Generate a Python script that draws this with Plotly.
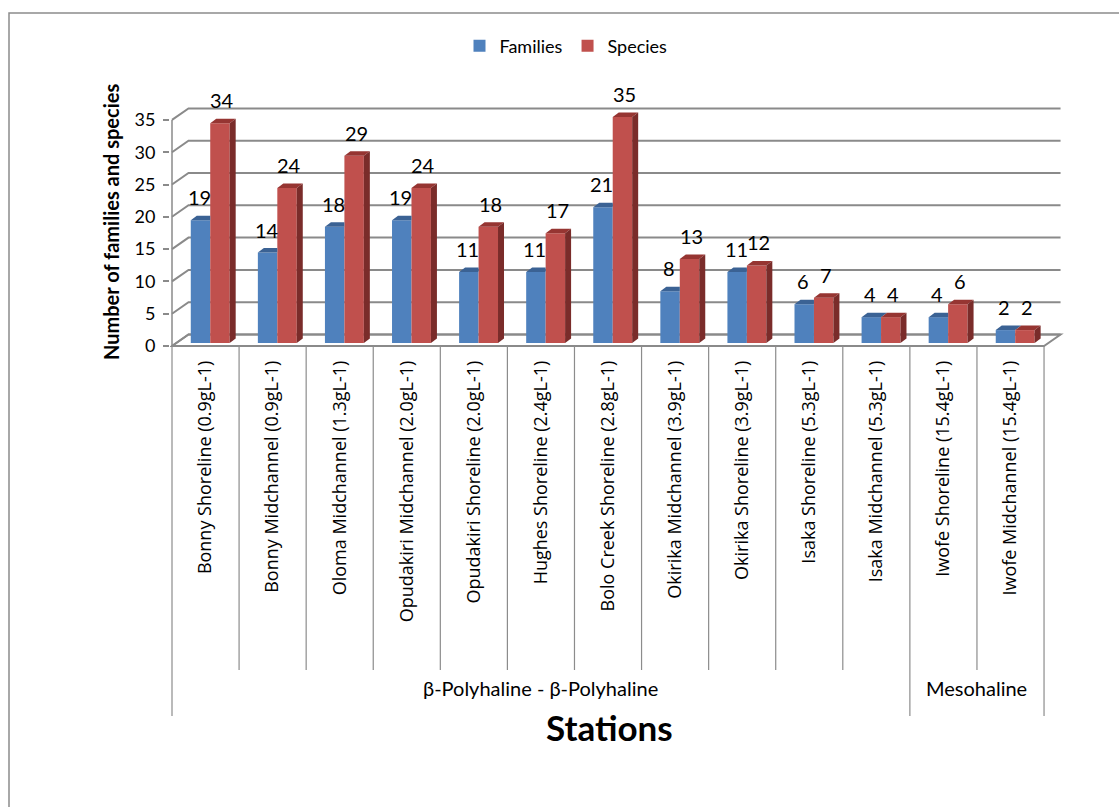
import plotly.graph_objects as go

# ---------------- data ----------------
stations = [
    "Bonny Shoreline (0.9gL-1)", "Bonny Midchannel (0.9gL-1)", "Oloma Midchannel (1.3gL-1)",
    "Opudakiri Midchannel (2.0gL-1)", "Opudakiri Shoreline (2.0gL-1)", "Hughes Shoreline (2.4gL-1)",
    "Bolo Creek Shoreline (2.8gL-1)", "Okirika Midchannel (3.9gL-1)", "Okirika Shoreline (3.9gL-1)",
    "Isaka Shoreline (5.3gL-1)", "Isaka Midchannel (5.3gL-1)", "Iwofe Shoreline (15.4gL-1)",
    "Iwofe Midchannel (15.4gL-1)",
]
families = [19, 14, 18, 19, 11, 11, 21, 8, 11, 6, 4, 4, 2]
species = [34, 24, 29, 24, 18, 17, 35, 13, 12, 7, 4, 6, 2]
groups = ["β-Polyhaline - β-Polyhaline", "Mesohaline"]
group_sizes = [11, 2]
y_ticks = [0, 5, 10, 15, 20, 25, 30, 35]

# ---------------- geometry / style ----------------
W, H = 1119, 807
PX_X, PX_Y = 67.08, 6.46          # pixels per category, pixels per unit
L, R, T, B = 170, 1075, 95, 348   # plot area in pixels
X0PIX, Y0PIX = 172, 346           # pixel of front-left corner (x=-0.5, y=0)
XMIN = -0.5 - (X0PIX - L) / PX_X
XMAX = -0.5 + (R - X0PIX) / PX_X
YMIN = -(B - Y0PIX) / PX_Y
YMAX = (Y0PIX - T) / PX_Y
PW, PH = R - L, B - T

def px(xp):
    return (xp - L) / PW

def py(yp):
    return (B - yp) / PH

n = len(stations)
WALL_DX, WALL_DY = 16.5 / PX_X, 11.5 / PX_Y
BAR_BASE = 3 / PX_Y
BAR_W = 0.29
OFF_FAM, OFF_SPE = -0.22, 0.07
FACE_DX, FACE_DY = 6 / PX_X, 4.5 / PX_Y
GRID_COL = "#8A8A8A"

BLUE, BLUE_TOP = "#4F81BD", "#3B6294"
RED, RED_TOP, RED_SIDE = "#C0504D", "#963532", "#7A2C2A"

fig = go.Figure()

# front faces
fig.add_trace(go.Bar(x=list(range(n)), y=families, base=[BAR_BASE] * n, width=[BAR_W] * n,
                     offset=[OFF_FAM] * n, name="Families", marker=dict(color=BLUE, line=dict(width=0))))
fig.add_trace(go.Bar(x=list(range(n)), y=species, base=[BAR_BASE] * n, width=[BAR_W] * n,
                     offset=[OFF_SPE] * n, name="Species", marker=dict(color=RED, line=dict(width=0))))

# 3D faces (tops and sides)
for i in range(n):
    xl = i + OFF_FAM
    xr = xl + BAR_W
    t = families[i] + BAR_BASE
    if species[i] > families[i]:
        xs = [xl, xl + FACE_DX, xr, xr, xl]
    else:
        xs = [xl, xl + FACE_DX, xr + FACE_DX, xr, xl]
    ys = [t, t + FACE_DY, t + FACE_DY, t, t]
    fig.add_trace(go.Scatter(x=xs, y=ys, fill="toself", fillcolor=BLUE_TOP, mode="lines",
                             line=dict(width=0, color=BLUE_TOP), showlegend=False, hoverinfo="skip"))
    xl = i + OFF_SPE
    xr = xl + BAR_W
    t = species[i] + BAR_BASE
    fig.add_trace(go.Scatter(x=[xl, xl + FACE_DX, xr + FACE_DX, xr, xl],
                             y=[t, t + FACE_DY, t + FACE_DY, t, t],
                             fill="toself", fillcolor=RED_TOP, mode="lines",
                             line=dict(width=0, color=RED_TOP), showlegend=False, hoverinfo="skip"))
    fig.add_trace(go.Scatter(x=[xr, xr + FACE_DX, xr + FACE_DX, xr, xr],
                             y=[BAR_BASE, BAR_BASE + FACE_DY, t + FACE_DY, t, BAR_BASE],
                             fill="toself", fillcolor=RED_SIDE, mode="lines",
                             line=dict(width=0, color=RED_SIDE), showlegend=False, hoverinfo="skip"))

shapes = []
# floor
shapes.append(dict(type="path", xref="x", yref="y", layer="below",
                   path=f"M {-0.5},0 L {n - 0.5},0 L {n - 0.5 + WALL_DX},{WALL_DY} L {-0.5 + WALL_DX},{WALL_DY} Z",
                   fillcolor="white", line=dict(color=GRID_COL, width=2)))
# back-wall gridlines with side-wall connectors
for v in y_ticks:
    shapes.append(dict(type="path", xref="x", yref="y", layer="below",
                       path=f"M {-0.5},{v} L {-0.5 + WALL_DX},{v + WALL_DY} L {n - 0.5 + WALL_DX},{v + WALL_DY}",
                       line=dict(color=GRID_COL, width=2)))
# front value axis line
shapes.append(dict(type="line", xref="x", yref="y", x0=-0.5, x1=-0.5, y0=0, y1=y_ticks[-1],
                   line=dict(color=GRID_COL, width=1.5)))

# category separators under the axis
bounds = [0]
for s in group_sizes:
    bounds.append(bounds[-1] + s)
for k in range(n + 1):
    long = k in bounds
    shapes.append(dict(type="line", xref="x", yref="paper", x0=k - 0.5, x1=k - 0.5,
                       y0=py(Y0PIX), y1=py(716 if long else 670),
                       line=dict(color="#8C8C8C", width=1.2)))

# outer chart border
shapes.append(dict(type="rect", xref="paper", yref="paper", x0=px(9), x1=px(1130), y0=py(820), y1=py(13),
                   line=dict(color="#8C8C8C", width=1.5), fillcolor="rgba(0,0,0,0)"))

annotations = []
# data labels
for i in range(n):
    annotations.append(dict(x=i + OFF_FAM + BAR_W / 2, y=families[i] + BAR_BASE, text=str(families[i]),
                            showarrow=False, yshift=23, xshift=-1, font=dict(family="Lato", size=20, color="black")))
    annotations.append(dict(x=i + OFF_SPE + BAR_W / 2, y=species[i] + BAR_BASE, text=str(species[i]),
                            showarrow=False, yshift=23, xshift=2, font=dict(family="Lato", size=20, color="black")))
# group labels
for g, a, b in zip(groups, bounds[:-1], bounds[1:]):
    annotations.append(dict(x=(a + b - 1) / 2, xref="x", y=py(702), yref="paper", text=g, showarrow=False,
                            font=dict(family="Lato", size=20, color="black")))
# axis titles
annotations.append(dict(x=px(97), y=py(222), xref="paper", yref="paper", text="<b>Number of families and species</b>",
                        textangle=-90, showarrow=False, font=dict(family="Lato", size=20, color="black")))
annotations.append(dict(x=px(609), y=py(750), xref="paper", yref="paper", text="<b>Stations</b>",
                        showarrow=False, font=dict(family="Lato", size=35, color="black")))

fig.update_layout(
    width=W, height=H,
    margin=dict(l=L, r=W - R, t=T, b=H - B, pad=0),
    paper_bgcolor="white", plot_bgcolor="white",
    barmode="overlay",
    shapes=shapes, annotations=annotations,
    showlegend=True,
    legend=dict(orientation="h", x=px(566), xanchor="center", y=py(46), yanchor="middle",
                font=dict(family="Lato", size=18, color="black"), itemsizing="constant"),
    xaxis=dict(range=[XMIN, XMAX], tickmode="array", tickvals=list(range(n)), ticktext=stations,
               tickangle=-90, ticks="", showgrid=False, zeroline=False, showline=False,
               ticklabelstandoff=8,
               tickfont=dict(family="Open Sans", size=18, color="black")),
    yaxis=dict(range=[YMIN, YMAX], tickmode="array", tickvals=y_ticks, ticks="outside", ticklen=6,
               tickcolor=GRID_COL, tickwidth=1.5, showgrid=False, zeroline=False, showline=False,
               ticklabelstandoff=4,
               tickfont=dict(family="Lato", size=18, color="black")),
)

fig.write_html("out.html")
